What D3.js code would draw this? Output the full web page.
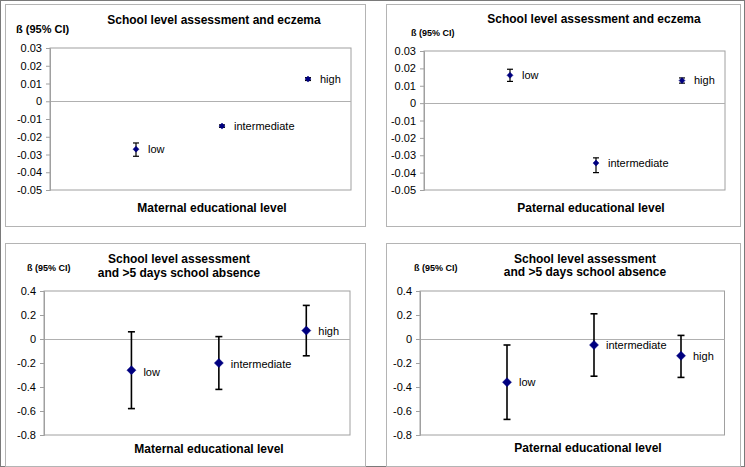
<!DOCTYPE html>
<html>
<head>
<meta charset="utf-8">
<script src="https://cdn.jsdelivr.net/npm/d3@7/dist/d3.min.js"></script>
<style>
  html, body { margin: 0; padding: 0; background: #fff; }
  svg { display: block; }
  text { font-family: "Liberation Sans", Arial, sans-serif; fill: #000; }
</style>
</head>
<body>
<svg id="chart" width="745" height="467"></svg>
<script>
// ---------- data ----------
const categories = ["low", "intermediate", "high"];
const categoryPositions = [1, 2, 3];

const eczemaMaternalBeta  = [-0.027, -0.014, 0.0125];
const eczemaMaternalLower = [-0.031, -0.0147, 0.0117];
const eczemaMaternalUpper = [-0.0235, -0.0133, 0.0133];

const eczemaPaternalBeta  = [0.016, -0.0345, 0.013];
const eczemaPaternalLower = [0.0125, -0.040, 0.0115];
const eczemaPaternalUpper = [0.0195, -0.0315, 0.0145];

const absenceMaternalBeta  = [-0.26, -0.20, 0.07];
const absenceMaternalLower = [-0.58, -0.42, -0.14];
const absenceMaternalUpper = [0.06, 0.02, 0.28];

const absencePaternalBeta  = [-0.36, -0.05, -0.14];
const absencePaternalLower = [-0.67, -0.31, -0.32];
const absencePaternalUpper = [-0.05, 0.21, 0.03];

const eczemaTicks = [0.03, 0.02, 0.01, 0, -0.01, -0.02, -0.03, -0.04, -0.05];
const eczemaTickLabels = ["0.03", "0.02", "0.01", "0", "-0.01", "-0.02", "-0.03", "-0.04", "-0.05"];
const absenceTicks = [0.4, 0.2, 0, -0.2, -0.4, -0.6, -0.8];
const absenceTickLabels = ["0.4", "0.2", "0", "-0.2", "-0.4", "-0.6", "-0.8"];

const yAxisLabel = "ß (95% CI)";
const titleEczema = ["School level assessment and eczema"];
const titleAbsence = ["School level assessment", "and >5 days school absence"];
const xTitleMaternal = "Maternal educational level";
const xTitlePaternal = "Paternal educational level";

// ---------- layout ----------
const svg = d3.select("#chart");

// outer border
svg.append("rect").attr("x", 0.5).attr("y", 0.5).attr("width", 744).attr("height", 466)
  .attr("fill", "#fff").attr("stroke", "#7a7a7a").attr("stroke-width", 1);

const panels = [
  { frame: [5, 4, 365, 226], plot: [50, 351, 48, 190],
    beta: eczemaMaternalBeta, lo: eczemaMaternalLower, hi: eczemaMaternalUpper,
    ticks: eczemaTicks, tickLabels: eczemaTickLabels, domain: [-0.05, 0.03],
    title: titleEczema, titleX: 214, titleY: [24],
    yLab: [16, 33, 11], xTitle: xTitleMaternal, xTitleX: 212, xTitleY: 212,
    marker: 3, cap: 3, sw: 1.2, labDy: [0, 0, 0] },
  { frame: [386, 4, 740, 226], plot: [424, 725, 51, 190],
    beta: eczemaPaternalBeta, lo: eczemaPaternalLower, hi: eczemaPaternalUpper,
    ticks: eczemaTicks, tickLabels: eczemaTickLabels, domain: [-0.05, 0.03],
    title: titleEczema, titleX: 594, titleY: [23],
    yLab: [411, 36, 9], xTitle: xTitlePaternal, xTitleX: 591, xTitleY: 212,
    marker: 3, cap: 3, sw: 1.2, labDy: [0, 0, 0] },
  { frame: [5, 243, 365, 466], plot: [44, 350, 291, 435],
    beta: absenceMaternalBeta, lo: absenceMaternalLower, hi: absenceMaternalUpper,
    ticks: absenceTicks, tickLabels: absenceTickLabels, domain: [-0.8, 0.4],
    title: titleAbsence, titleX: 179, titleY: [263, 277],
    yLab: [27, 271, 9], xTitle: xTitleMaternal, xTitleX: 209, xTitleY: 453,
    marker: 4.5, cap: 3.5, sw: 1.6, labDy: [2, 1, 1] },
  { frame: [386, 243, 740, 466], plot: [420, 724.5, 291, 435],
    beta: absencePaternalBeta, lo: absencePaternalLower, hi: absencePaternalUpper,
    ticks: absenceTicks, tickLabels: absenceTickLabels, domain: [-0.8, 0.4],
    title: titleAbsence, titleX: 585, titleY: [263, 276],
    yLab: [414, 271, 9], xTitle: xTitlePaternal, xTitleX: 588, xTitleY: 452,
    marker: 4.5, cap: 3.5, sw: 1.6, labDy: [0, 0, 0] }
];

const diamondPath = r => `M0,${-r}L${r},0L0,${r}L${-r},0Z`;

panels.forEach(p => {
  const g = svg.append("g");
  const [fx0, fy0, fx1, fy1] = p.frame;
  g.append("rect").attr("x", fx0 + 0.5).attr("y", fy0 + 0.5)
    .attr("width", fx1 - fx0).attr("height", fy1 - fy0)
    .attr("fill", "#fff").attr("stroke", "#b4b4b4").attr("stroke-width", 1);

  const [px0, px1, py0, py1] = p.plot;
  const x = d3.scaleLinear().domain([0, 3.5]).range([px0, px1]);
  const y = d3.scaleLinear().domain(p.domain).range([py1, py0]);

  // plot area
  g.append("rect").attr("x", px0).attr("y", py0)
    .attr("width", px1 - px0).attr("height", py1 - py0)
    .attr("fill", "#fff").attr("stroke", "#a0a0a0").attr("stroke-width", 1);

  // zero line
  g.append("line").attr("x1", px0).attr("x2", px1)
    .attr("y1", Math.round(y(0)) + 0.5).attr("y2", Math.round(y(0)) + 0.5)
    .attr("stroke", "#b0b0b0").attr("stroke-width", 1);

  // y axis
  const axis = d3.axisLeft(y).tickValues(p.ticks).tickSize(4).tickPadding(4)
    .tickFormat((d, i) => p.tickLabels[i]);
  const ag = g.append("g").attr("transform", `translate(${px0},0)`).call(axis);
  ag.select(".domain").attr("stroke", "#a0a0a0");
  ag.selectAll(".tick line").attr("stroke", "#a0a0a0");
  ag.selectAll(".tick text").attr("font-size", 11)
    .style("font-family", "'Liberation Sans', Arial, sans-serif").attr("fill", "#000");

  // titles
  p.title.forEach((t, i) => {
    g.append("text").attr("x", p.titleX).attr("y", p.titleY[i])
      .attr("text-anchor", "middle").attr("font-size", 12).attr("font-weight", "bold").text(t);
  });
  g.append("text").attr("x", p.yLab[0]).attr("y", p.yLab[1])
    .attr("font-size", p.yLab[2]).attr("font-weight", "bold").text(yAxisLabel);
  g.append("text").attr("x", p.xTitleX).attr("y", p.xTitleY)
    .attr("text-anchor", "middle").attr("font-size", 12).attr("font-weight", "bold").text(p.xTitle);

  // error bars
  categoryPositions.forEach((c, i) => {
    const cx = x(c);
    const eb = g.append("g").attr("stroke", "#000").attr("stroke-width", p.sw);
    eb.append("line").attr("x1", cx).attr("x2", cx).attr("y1", y(p.lo[i])).attr("y2", y(p.hi[i]));
    eb.append("line").attr("x1", cx - p.cap).attr("x2", cx + p.cap).attr("y1", y(p.lo[i])).attr("y2", y(p.lo[i]));
    eb.append("line").attr("x1", cx - p.cap).attr("x2", cx + p.cap).attr("y1", y(p.hi[i])).attr("y2", y(p.hi[i]));
  });

  // markers
  g.selectAll("path.marker").data(categoryPositions).enter().append("path")
    .attr("class", "marker")
    .attr("d", diamondPath(p.marker))
    .attr("transform", (c, i) => `translate(${x(c)},${y(p.beta[i])})`)
    .attr("fill", "#000080").attr("stroke", "#000080").attr("stroke-width", 0.5);

  // data labels
  g.selectAll("text.lab").data(categories).enter().append("text")
    .attr("class", "lab")
    .attr("x", (d, i) => x(categoryPositions[i]) + 12)
    .attr("y", (d, i) => y(p.beta[i]) + p.labDy[i])
    .attr("dy", "0.35em").attr("font-size", 11).text(d => d);
});
</script>
</body>
</html>
